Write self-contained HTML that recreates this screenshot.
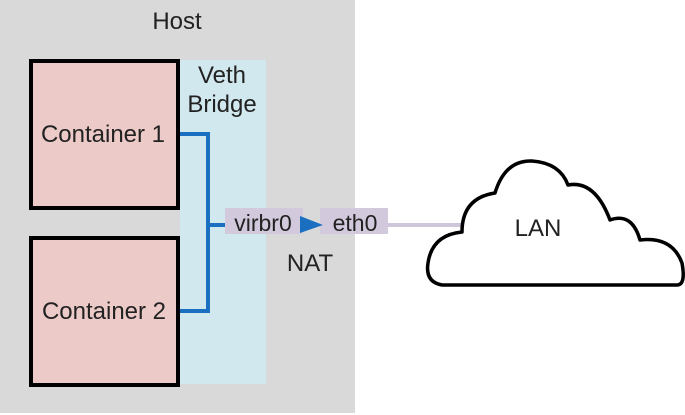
<!DOCTYPE html>
<html><head><style>
body{margin:0;background:#fff;}
svg{display:block;font-family:"Liberation Sans",Arial,sans-serif;}
</style></head><body>
<svg width="685" height="415" viewBox="0 0 685 415">
<rect x="0" y="0" width="355" height="413" fill="#d9d9d9"/>
<rect x="180" y="60" width="86" height="324" fill="#d2e8ef"/>
<text x="177" y="29" font-size="24" text-anchor="middle" fill="#222">Host</text>
<text x="222" y="83" font-size="24" text-anchor="middle" fill="#222">Veth</text>
<text x="222" y="112" font-size="24" text-anchor="middle" fill="#222">Bridge</text>
<rect x="31" y="61" width="147" height="147" fill="#eccac7" stroke="#000" stroke-width="4"/>
<rect x="31" y="238" width="147" height="147" fill="#eccac7" stroke="#000" stroke-width="4"/>
<text x="103" y="142" font-size="24" text-anchor="middle" fill="#222">Container 1</text>
<text x="104" y="319" font-size="24" text-anchor="middle" fill="#222">Container 2</text>
<path d="M180 134 H208 V311 H180 M208 225 H225" fill="none" stroke="#1a6fc0" stroke-width="4"/>
<rect x="225" y="208" width="78" height="26" fill="#d3c9dd"/>
<rect x="320" y="208" width="68" height="26" fill="#d3c9dd"/>
<text x="263" y="231" font-size="23" text-anchor="middle" fill="#222">virbr0</text>
<text x="355" y="231" font-size="23" text-anchor="middle" fill="#222">eth0</text>
<polygon points="300,216 300,233 323,225" fill="#1a6fc0"/>
<text x="310" y="271" font-size="24" text-anchor="middle" fill="#222">NAT</text>
<line x1="388" y1="225" x2="463" y2="225" stroke="#cfc6dc" stroke-width="4"/>
<path d="M442 285 Q425 282 428 263 Q432 235 462 232 Q462 198 495 193 Q505 160 532 161 Q560 163 568 185 Q595 180 610 220 Q632 212 640 240 Q672 236 682 263 Q686 285 677 285 Z" fill="#fff" stroke="#000" stroke-width="3.5" stroke-linejoin="round"/>
<text x="538" y="236" font-size="24" text-anchor="middle" fill="#222">LAN</text>
</svg>
</body></html>
